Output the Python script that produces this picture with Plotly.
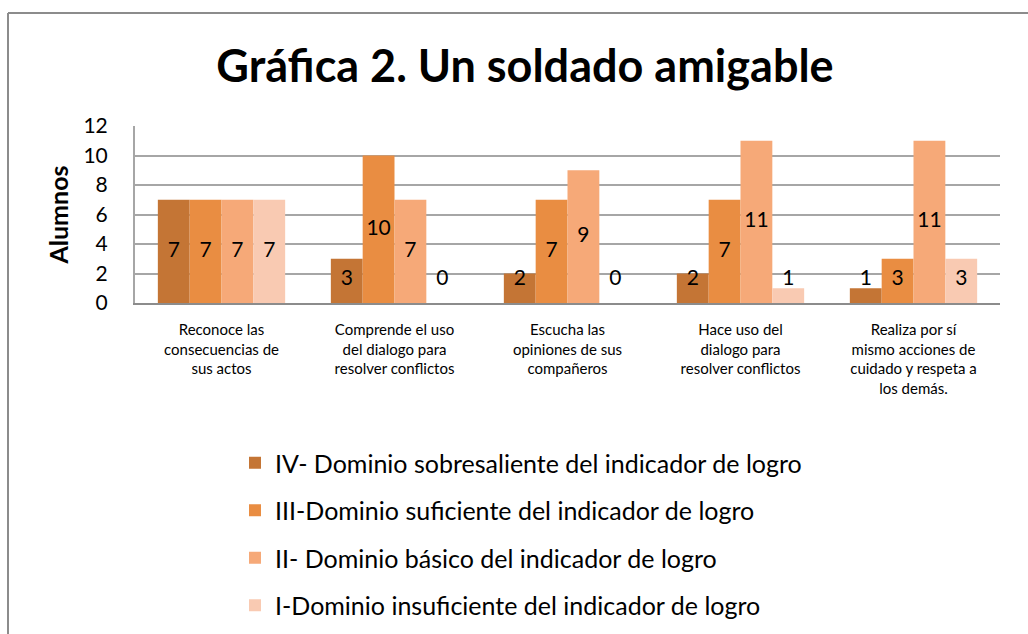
import plotly.graph_objects as go

categories = [
    "Reconoce las<br>consecuencias de<br>sus actos",
    "Comprende el uso<br>del dialogo para<br>resolver conflictos",
    "Escucha las<br>opiniones de sus<br>compañeros",
    "Hace uso del<br>dialogo para<br>resolver conflictos",
    "Realiza por sí<br>mismo acciones de<br>cuidado y respeta a<br>los demás.",
]
series_names = [
    "IV- Dominio sobresaliente del indicador de logro",
    "III-Dominio suficiente del indicador de logro",
    "II- Dominio básico del indicador de logro",
    "I-Dominio insuficiente del indicador de logro",
]
values_iv = [7, 3, 2, 2, 1]
values_iii = [7, 10, 7, 7, 3]
values_ii = [7, 7, 9, 11, 11]
values_i = [7, 0, 0, 1, 3]
series_values = [values_iv, values_iii, values_ii, values_i]
colors = ["#C47535", "#E98D42", "#F6A978", "#F9CAB2"]

FONT = "Lato"
bar_w = 0.184
n = len(series_values)
fig = go.Figure()
idx = list(range(len(categories)))
for k, (name, vals, col) in enumerate(zip(series_names, series_values, colors)):
    xs = [i + (k - (n - 1) / 2) * bar_w for i in idx]
    fig.add_trace(go.Bar(
        x=xs, y=vals, width=bar_w, name=name, marker=dict(color=col, line=dict(width=0)),
        legendgroup=f"g{k}", hoverinfo="y",
    ))
for k, vals in enumerate(series_values):
    xs = [i + (k - (n - 1) / 2) * bar_w for i in idx]
    ys = [max(v / 2, 1.55) for v in vals]
    fig.add_trace(go.Scatter(
        x=xs, y=ys, mode="text", text=[str(v) for v in vals],
        textfont=dict(family=FONT, size=21, color="#000000"),
        showlegend=False, hoverinfo="skip",
    ))

L, R, T, B = 135, 28, 126, 331
h = 634 - T - B
w = 1028 - L - R
fig.update_layout(
    width=1028, height=634,
    margin=dict(l=L, r=R, t=T, b=B, autoexpand=False),
    paper_bgcolor="white", plot_bgcolor="white",
    barmode="overlay",
    font=dict(family=FONT, color="#000000"),
    title=dict(text="<b>Gráfica 2. Un soldado amigable</b>", x=525 / 1028, xanchor="center",
               y=1 - 66 / 634, yanchor="middle", font=dict(family=FONT, size=45, color="#000000")),
    xaxis=dict(
        range=[-0.5, len(categories) - 0.5], tickmode="array", tickvals=idx, ticktext=categories,
        tickfont=dict(family=FONT, size=15), showgrid=False, zeroline=False,
        showline=True, linecolor="#8C8C8C", linewidth=2, ticks="", ticklen=0,
        ticklabelstandoff=12, automargin=False,
    ),
    yaxis=dict(
        range=[0, 12], dtick=2, tickfont=dict(family=FONT, size=21),
        showgrid=True, gridcolor="#A6A6A6", gridwidth=2, zeroline=False,
        showline=True, linecolor="#A6A6A6", linewidth=2, ticks="",
        ticklabelstandoff=21, automargin=False,
        title=dict(text="<b>Alumnos</b>", font=dict(family=FONT, size=25), standoff=8),
    ),
    legend=dict(
        orientation="v", x=(235 - L) / w, xanchor="left",
        y=(634 - B - 440) / h, yanchor="top",
        font=dict(family=FONT, size=25), tracegroupgap=12,
        bgcolor="rgba(0,0,0,0)",
    ),
    showlegend=True,
)
fig.add_shape(type="line", xref="paper", yref="paper",
              x0=(8 - L) / w, x1=(1040 - L) / w, y0=(634 - B - 13) / h, y1=(634 - B - 13) / h,
              line=dict(color="#8C8C8C", width=2))
fig.add_shape(type="line", xref="paper", yref="paper",
              x0=(8 - L) / w, x1=(8 - L) / w, y0=(634 - B - 13) / h, y1=(634 - B - 650) / h,
              line=dict(color="#8C8C8C", width=2))
fig.write_html("out.html", config={"displayModeBar": False},
               post_script="document.body.style.margin='0';")
